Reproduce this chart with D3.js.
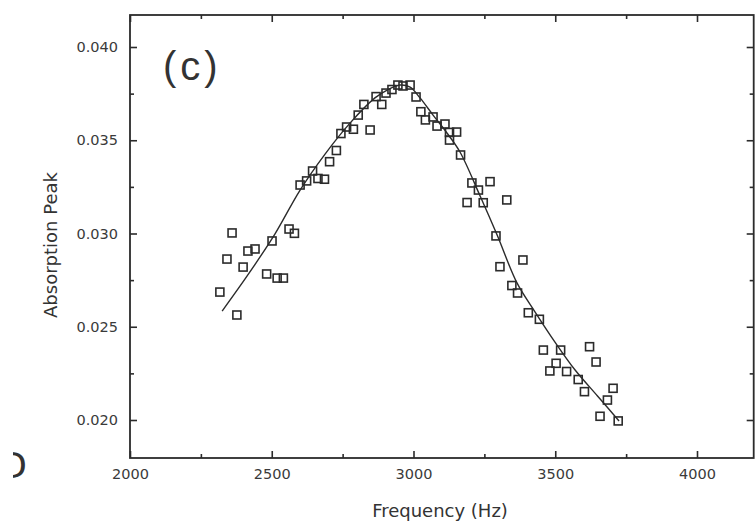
<!DOCTYPE html>
<html>
<head>
<meta charset="utf-8">
<script src="https://cdn.jsdelivr.net/npm/d3@7"></script>
<style>
  html, body { margin: 0; padding: 0; background: #ffffff; }
  svg { display: block; }
  text { font-family: "DejaVu Sans", "Liberation Sans", sans-serif; }
</style>
</head>
<body>
<svg id="chart" width="755" height="525"></svg>
<script>
// ---------- data ----------
const frequency = [2317,2377,2342,2360,2399,2416,2441,2482,2501,2519,2541,2561,2580,2600,2623,2644,2663,2686,2704,2728,
  2744,2764,2788,2805,2825,2847,2868,2888,2903,2924,2945,2963,2988,3009,3026,3042,3069,3083,3111,3127,
  3152,3127,3166,3206,3229,3270,3189,3246,3329,3291,3305,3386,3347,3367,3405,3444,3458,3519,3621,3644,
  3481,3503,3540,3581,3603,3704,3684,3658,3722];
const absorption = [0.02686,0.02563,0.02863,0.03003,0.02820,0.02906,0.02917,0.02783,0.02960,0.02761,0.02761,0.03024,0.03001,0.03260,0.03282,0.03335,0.03295,0.03291,0.03385,0.03445,
  0.03536,0.03571,0.03559,0.03635,0.03692,0.03555,0.03734,0.03692,0.03753,0.03772,0.03796,0.03791,0.03796,0.03732,0.03653,0.03609,0.03625,0.03576,0.03587,0.03542,
  0.03544,0.03501,0.03421,0.03271,0.03233,0.03278,0.03166,0.03165,0.03180,0.02987,0.02822,0.02858,0.02721,0.02681,0.02575,0.02540,0.02375,0.02375,0.02393,0.02311,
  0.02263,0.02304,0.02260,0.02217,0.02152,0.02170,0.02107,0.02020,0.01995];

const fitFrequency = [2325,2423,2511,2600,2688,2776,2864,2907,2952,2988,3023,3069,3118,3164,3235,3295,3365,3429,3499,3570,3649,3725];
const fitAbsorption = [0.02584,0.02794,0.02997,0.03233,0.03426,0.03592,0.03727,0.03769,0.03796,0.03785,0.03727,0.03635,0.03539,0.03437,0.03201,0.02992,0.02735,0.02579,0.02418,0.02268,0.02129,0.01995];

const xMajorTicks = [2000,2500,3000,3500,4000];
const xMinorTicks = [2250,2750,3250,3750,4250];
const yMajorTicks = [0.020,0.025,0.030,0.035,0.040];
const yMinorTicks = [0.0225,0.0275,0.0325,0.0375];
const xAxisTitle = "Frequency (Hz)";
const yAxisTitle = "Absorption Peak";
const panelLabel = "(c)";

// ---------- layout ----------
const svg = d3.select("#chart");
const ink = "#2b2b2b";
const x = d3.scaleLinear().domain([2000, 4000]).range([130, 697]);
const y = d3.scaleLinear().domain([0.020, 0.040]).range([420, 47]);
const frameLeft = x(2000), frameRight = x(4200), frameTop = 15, frameBottom = 458;

// frame
svg.append("rect")
  .attr("x", frameLeft).attr("y", frameTop)
  .attr("width", frameRight - frameLeft).attr("height", frameBottom - frameTop)
  .attr("fill", "none").attr("stroke", ink).attr("stroke-width", 1.8);

function styleAxis(g) {
  g.select(".domain").remove();
  g.selectAll(".tick line").attr("stroke", ink).attr("stroke-width", 1.6);
  g.selectAll(".tick text").attr("fill", "#3a3a3a").style("font-size", "14.5px")
    .style("font-family", "'DejaVu Sans', sans-serif");
}

// bottom axis
svg.append("g").attr("transform", `translate(0,${frameBottom})`)
  .call(d3.axisBottom(x).tickValues(xMajorTicks).tickSizeInner(-7).tickSizeOuter(0).tickPadding(11).tickFormat(d3.format("d")))
  .call(styleAxis);
svg.append("g").attr("transform", `translate(0,${frameBottom})`)
  .call(d3.axisBottom(x).tickValues(xMinorTicks.filter(v => x(v) < frameRight)).tickSizeInner(-4).tickSizeOuter(0).tickFormat(""))
  .call(styleAxis);
// top axis
svg.append("g").attr("transform", `translate(0,${frameTop})`)
  .call(d3.axisTop(x).tickValues(xMajorTicks).tickSizeInner(-7).tickSizeOuter(0).tickFormat(""))
  .call(styleAxis);
svg.append("g").attr("transform", `translate(0,${frameTop})`)
  .call(d3.axisTop(x).tickValues(xMinorTicks.filter(v => x(v) < frameRight)).tickSizeInner(-4).tickSizeOuter(0).tickFormat(""))
  .call(styleAxis);
// left axis
svg.append("g").attr("transform", `translate(${frameLeft},0)`)
  .call(d3.axisLeft(y).tickValues(yMajorTicks).tickSizeInner(-7).tickSizeOuter(0).tickPadding(12).tickFormat(d3.format(".3f")))
  .call(styleAxis);
svg.append("g").attr("transform", `translate(${frameLeft},0)`)
  .call(d3.axisLeft(y).tickValues(yMinorTicks).tickSizeInner(-4).tickSizeOuter(0).tickFormat(""))
  .call(styleAxis);
// right axis
svg.append("g").attr("transform", `translate(${frameRight},0)`)
  .call(d3.axisRight(y).tickValues(yMajorTicks).tickSizeInner(-7).tickSizeOuter(0).tickFormat(""))
  .call(styleAxis);
svg.append("g").attr("transform", `translate(${frameRight},0)`)
  .call(d3.axisRight(y).tickValues(yMinorTicks).tickSizeInner(-4).tickSizeOuter(0).tickFormat(""))
  .call(styleAxis);

// fitted curve
const fit = fitFrequency.map((f, i) => ({ f, a: fitAbsorption[i] }));
svg.append("path")
  .datum(fit)
  .attr("fill", "none").attr("stroke", ink).attr("stroke-width", 1.4)
  .attr("d", d3.line().x(d => x(d.f)).y(d => y(d.a)).curve(d3.curveCatmullRom.alpha(0.5)));

// data squares
const pts = frequency.map((f, i) => ({ f, a: absorption[i] }));
const s = 8;
svg.append("g").selectAll("rect").data(pts).join("rect")
  .attr("x", d => x(d.f) - s / 2).attr("y", d => y(d.a) - s / 2)
  .attr("width", s).attr("height", s)
  .attr("fill", "none").attr("stroke", ink).attr("stroke-width", 1.6);

// titles
svg.append("text")
  .attr("x", 440).attr("y", 517).attr("text-anchor", "middle")
  .attr("fill", "#333").style("font-size", "18px").text(xAxisTitle);
svg.append("text")
  .attr("transform", "translate(57,245) rotate(-90)").attr("text-anchor", "middle")
  .attr("fill", "#333").style("font-size", "18px").text(yAxisTitle);
svg.append("text")
  .attr("x", 163).attr("y", 80)
  .attr("fill", "#333").style("font-size", "40px").style("letter-spacing", "4px")
  .style("font-family", "'Liberation Sans', sans-serif").text(panelLabel);

// stray glyph from the neighbouring panel
svg.append("text")
  .attr("x", 27).attr("y", 478).attr("text-anchor", "end")
  .attr("fill", "#333").style("font-size", "36px").text("D");
svg.append("rect").attr("x", 0).attr("y", 440).attr("width", 13).attr("height", 50).attr("fill", "#ffffff");
</script>
</body>
</html>
